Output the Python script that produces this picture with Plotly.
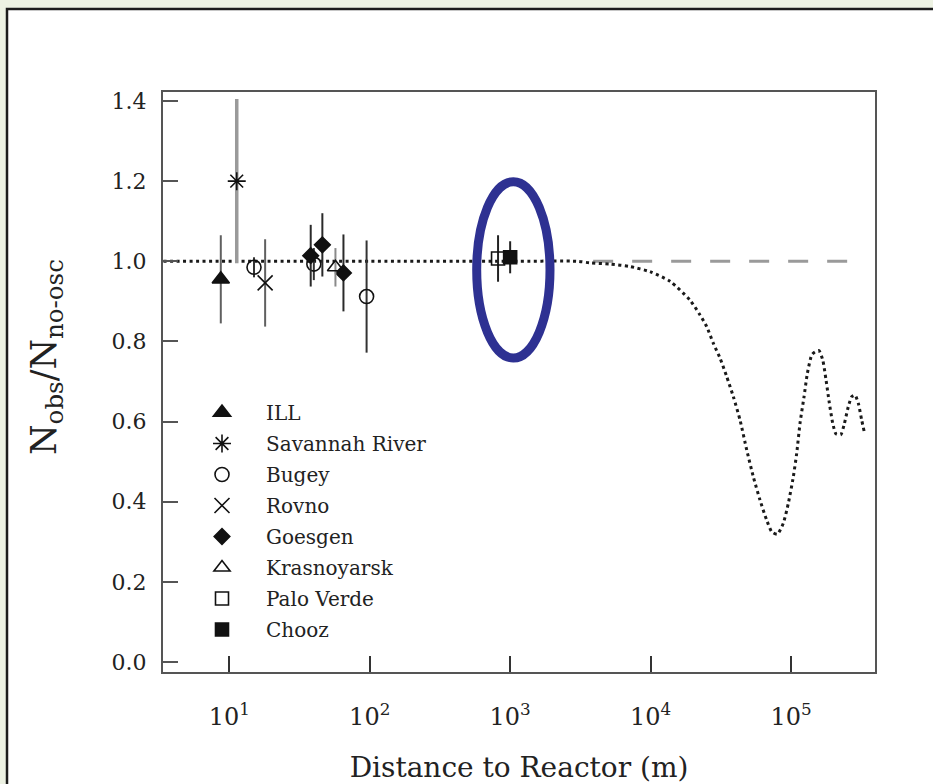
import plotly.graph_objects as go

# Reactor experiments: distance to reactor (m), observed/expected ratio, 1-sigma error
ill_L = [8.7]
ill_R = [0.955]
ill_err = [0.11]

savannah_L = [11.3]
savannah_R = [1.20]
savannah_err = [0.205]

bugey_L = [15, 40, 95]
bugey_R = [0.985, 0.993, 0.912]
bugey_err = [0.025, 0.04, 0.14]

rovno_L = [18]
rovno_R = [0.946]
rovno_err = [0.109]

goesgen_L = [38, 46, 65]
goesgen_R = [1.014, 1.041, 0.971]
goesgen_err = [0.077, 0.079, 0.096]

krasnoyarsk_L = [57]
krasnoyarsk_R = [0.985]
krasnoyarsk_err = [0.048]

paloverde_L = [820]
paloverde_R = [1.007]
paloverde_err = [0.058]

chooz_L = [1000]
chooz_R = [1.01]
chooz_err = [0.04]

# Oscillation expectation (dotted curve)
osc_L = [3.4, 100, 1000, 3000, 3710, 5150, 7140, 9910, 13760, 19100,
         22500, 25100, 28000, 31260, 34850, 38850, 43330, 48390, 53930,
         60140, 67120, 72920, 79860, 88090, 95670, 103800, 109800, 115900,
         123800, 130700, 140400, 148200, 158200, 168200, 177500, 187500,
         198100, 209100, 225800, 238400, 255700, 270400, 285600, 301300,
         318500, 332000]
osc_R = [1.0, 1.0, 1.0, 1.0, 0.996, 0.993, 0.987, 0.974, 0.950, 0.903,
         0.866, 0.837, 0.795, 0.758, 0.712, 0.662, 0.604, 0.529, 0.462,
         0.404, 0.354, 0.325, 0.319, 0.346, 0.396, 0.462, 0.521, 0.596,
         0.662, 0.720, 0.766, 0.774, 0.777, 0.754, 0.704, 0.646,
         0.596, 0.569, 0.567, 0.591, 0.637, 0.662, 0.666, 0.646,
         0.604, 0.575]

# No-oscillation reference (dashed line)
noosc_L = [3900, 255000]
noosc_R = [1.0, 1.0]

x_tickvals = [10, 100, 1000, 10000, 100000]
x_ticktext = ["10<sup>1</sup>", "10<sup>2</sup>", "10<sup>3</sup>",
              "10<sup>4</sup>", "10<sup>5</sup>"]
y_tickvals = [0.0, 0.2, 0.4, 0.6, 0.8, 1.0, 1.2, 1.4]

SERIF = "DejaVu Serif"
INK = "#111111"
TEXT = "#222222"

fig = go.Figure()

fig.add_trace(go.Scatter(
    x=noosc_L, y=noosc_R, mode="lines", showlegend=False, hoverinfo="skip",
    line=dict(color="#9a9a9a", width=3, dash="20px,19px")))

fig.add_trace(go.Scatter(
    x=osc_L, y=osc_R, mode="lines", showlegend=False, hoverinfo="skip",
    line=dict(color="#1a1a1a", width=3, dash="3px,3.5px", shape="spline",
              smoothing=0.6)))

experiments = [
    ("ILL", ill_L, ill_R, ill_err, "triangle-up", 15, "#606060", 2),
    ("Savannah River", savannah_L, savannah_R, savannah_err, "asterisk-open", 15, "#9a9a9a", 3.5),
    ("Bugey", bugey_L, bugey_R, bugey_err, "circle-open", 14, "#333333", 2),
    ("Rovno", rovno_L, rovno_R, rovno_err, "x-thin-open", 15, "#606060", 2),
    ("Goesgen", goesgen_L, goesgen_R, goesgen_err, "diamond", 12, "#2a2a2a", 2),
    ("Krasnoyarsk", krasnoyarsk_L, krasnoyarsk_R, krasnoyarsk_err, "triangle-up-open", 14, "#8a8a8a", 2),
    ("Palo Verde", paloverde_L, paloverde_R, paloverde_err, "square-open", 13, "#222222", 2),
    ("Chooz", chooz_L, chooz_R, chooz_err, "square", 13, "#222222", 2),
]

for i, (name, L, R, err, sym, size, ecol, ew) in enumerate(experiments):
    fig.add_trace(go.Scatter(
        x=L, y=R, mode="markers", name=name, legendgroup=f"g{i}",
        marker=dict(symbol=sym, size=size, color=INK,
                    line=dict(color=INK, width=1.6)),
        error_y=dict(type="data", array=err, visible=True, color=ecol,
                     thickness=ew, width=0)))

# Plot-area geometry in pixels
L_M, R_M, T_M, B_M = 163, 58, 92, 112
W = 933 - L_M - R_M
H = 784 - T_M - B_M

def px_x(p):
    return (p - L_M) / W

def px_y(p):
    return (784 - B_M - p) / H

fig.update_layout(
    width=933, height=784,
    margin=dict(l=L_M, r=R_M, t=T_M, b=B_M, autoexpand=False),
    paper_bgcolor="#EDF2E3",
    plot_bgcolor="white",
    font=dict(family=SERIF, color=TEXT),
    shapes=[
        dict(type="rect", xref="paper", yref="paper", layer="below",
             x0=px_x(7), x1=px_x(945), y0=px_y(795), y1=px_y(9),
             fillcolor="white", line=dict(color="#1c1c1c", width=2.5)),
        dict(type="circle", xref="paper", yref="paper", layer="above",
             x0=px_x(476.7), x1=px_x(550), y0=px_y(358), y1=px_y(181.7),
             line=dict(color="#2E3192", width=9)),
    ],
    annotations=[
        dict(text="N<sub>obs</sub>/N<sub>no-osc</sub>", textangle=-90,
             xref="paper", yref="paper", x=px_x(46), y=px_y(357),
             xanchor="center", yanchor="middle", showarrow=False,
             font=dict(family=SERIF, size=35, color=TEXT)),
    ],
    legend=dict(
        x=px_x(178), y=px_y(393), xanchor="left", yanchor="top",
        bgcolor="rgba(0,0,0,0)", borderwidth=0,
        font=dict(family=SERIF, size=20, color=TEXT),
        itemwidth=78, tracegroupgap=2,
    ),
    xaxis=dict(
        type="log", range=[0.528, 5.598], automargin=False,
        tickvals=x_tickvals, ticktext=x_ticktext,
        ticks="inside", ticklen=16, tickwidth=1.5, tickcolor="#333333",
        showline=True, linecolor="#555555", linewidth=2, mirror=True,
        showgrid=False, zeroline=False,
        tickfont=dict(family=SERIF, size=24, color=TEXT),
        ticklabelstandoff=22,
        title=dict(text="Distance to Reactor (m)",
                   font=dict(family=SERIF, size=28, color=TEXT),
                   standoff=28),
    ),
    yaxis=dict(
        range=[-0.025, 1.4225], automargin=False,
        tickvals=y_tickvals, tickformat=".1f",
        ticks="inside", ticklen=15, tickwidth=2, tickcolor="#555555",
        showline=True, linecolor="#555555", linewidth=2, mirror=True,
        showgrid=False, zeroline=False,
        tickfont=dict(family=SERIF, size=22, color=TEXT),
        ticklabelstandoff=10,
    ),
)

fig.write_html("out.html")
